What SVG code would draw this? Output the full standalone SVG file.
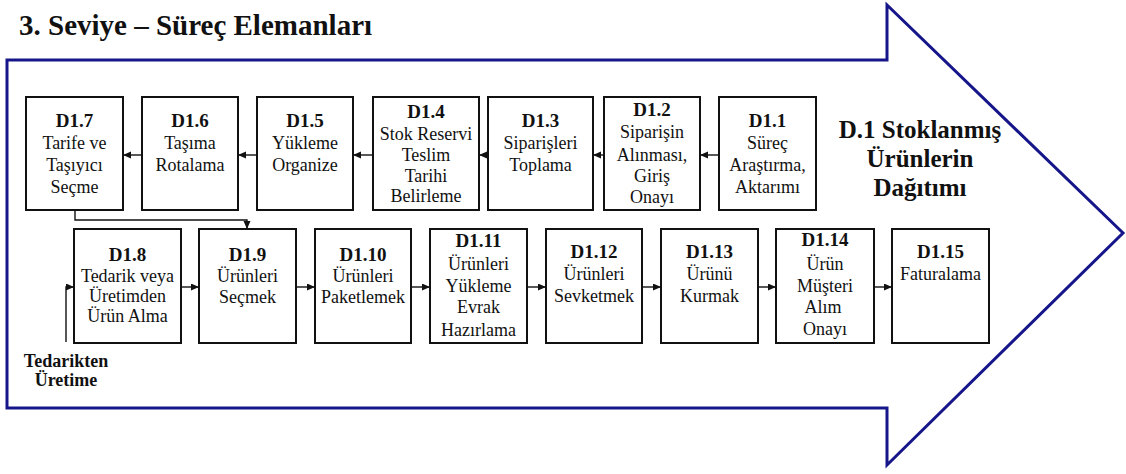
<svg xmlns="http://www.w3.org/2000/svg" width="1126" height="474" viewBox="0 0 1126 474">
  <style>
    .frame { fill: #fff; stroke: #16168a; stroke-width: 3; stroke-linejoin: miter; }
    .box rect { fill: #fff; stroke: #111; stroke-width: 2; }
    .box text { font-family: 'Liberation Serif', 'Times New Roman', serif; fill: #111; text-anchor: middle; font-size: 18px; }
    .box .id { font-weight: bold; font-size: 19px; }
    .head { font-family: 'Liberation Serif', 'Times New Roman', serif; font-weight: bold; fill: #111; }
    .link { fill: none; stroke: #111; stroke-width: 1.4; }
  </style>
  <defs>
    <marker id="tip" markerUnits="userSpaceOnUse" markerWidth="9" markerHeight="8" refX="8" refY="3.5" orient="auto">
      <path d="M0,0 L8,3.5 L0,7 z" fill="#111"/>
    </marker>
  </defs>

  <rect width="1126" height="474" fill="#fff"/>

  <!-- large block arrow -->
  <polygon class="frame" points="7,60 887,60 887,5 1123,233 887,465 887,408 7,408"/>

  <text class="head" x="19" y="35" font-size="29">3. Seviye – Süreç Elemanları</text>

  <g id="heading" class="head" font-size="25" text-anchor="middle">
    <text x="920" y="138">D.1 Stoklanmış</text>
    <text x="920" y="167">Ürünlerin</text>
    <text x="920" y="196">Dağıtımı</text>
  </g>

  <!-- top row (right to left) -->
  <g id="d1-1" class="box">
    <rect x="719" y="97" width="97" height="113"/>
    <text class="id" x="767.5" y="127">D1.1</text>
    <text x="767.5" y="149">Süreç</text>
    <text x="767.5" y="171">Araştırma,</text>
    <text x="767.5" y="193">Aktarımı</text>
  </g>
  <g id="d1-2" class="box">
    <rect x="604" y="97" width="96" height="113"/>
    <text class="id" x="652" y="116">D1.2</text>
    <text x="652" y="138">Siparişin</text>
    <text x="652" y="161">Alınması,</text>
    <text x="652" y="182">Giriş</text>
    <text x="652" y="203">Onayı</text>
  </g>
  <g id="d1-3" class="box">
    <rect x="488" y="97" width="105" height="113"/>
    <text class="id" x="540.5" y="127">D1.3</text>
    <text x="540.5" y="149">Siparişleri</text>
    <text x="540.5" y="171">Toplama</text>
  </g>
  <g id="d1-4" class="box">
    <rect x="373" y="97" width="106" height="113"/>
    <text class="id" x="426" y="118">D1.4</text>
    <text x="426" y="140" font-size="17.5">Stok Reservi</text>
    <text x="426" y="161">Teslim</text>
    <text x="426" y="182">Tarihi</text>
    <text x="426" y="202">Belirleme</text>
  </g>
  <g id="d1-5" class="box">
    <rect x="257" y="97" width="96" height="113"/>
    <text class="id" x="305" y="127">D1.5</text>
    <text x="305" y="149">Yükleme</text>
    <text x="305" y="171">Organize</text>
  </g>
  <g id="d1-6" class="box">
    <rect x="142" y="97" width="96" height="113"/>
    <text class="id" x="190" y="127">D1.6</text>
    <text x="190" y="149">Taşıma</text>
    <text x="190" y="171">Rotalama</text>
  </g>
  <g id="d1-7" class="box">
    <rect x="26" y="97" width="97" height="113"/>
    <text class="id" x="74.5" y="127">D1.7</text>
    <text x="74.5" y="149">Tarife ve</text>
    <text x="74.5" y="171">Taşıyıcı</text>
    <text x="74.5" y="193">Seçme</text>
  </g>

  <!-- bottom row (left to right) -->
  <g id="d1-8" class="box">
    <rect x="74" y="229" width="107" height="114"/>
    <text class="id" x="127.5" y="261">D1.8</text>
    <text x="127.5" y="282">Tedarik veya</text>
    <text x="127.5" y="302">Üretimden</text>
    <text x="127.5" y="322">Ürün Alma</text>
  </g>
  <g id="d1-9" class="box">
    <rect x="199" y="229" width="97" height="114"/>
    <text class="id" x="247.5" y="261">D1.9</text>
    <text x="247.5" y="282">Ürünleri</text>
    <text x="247.5" y="303">Seçmek</text>
  </g>
  <g id="d1-10" class="box">
    <rect x="315" y="229" width="96" height="114"/>
    <text class="id" x="363" y="261">D1.10</text>
    <text x="363" y="282">Ürünleri</text>
    <text x="363" y="303">Paketlemek</text>
  </g>
  <g id="d1-11" class="box">
    <rect x="430" y="229" width="97" height="114"/>
    <text class="id" x="478.5" y="247">D1.11</text>
    <text x="478.5" y="270">Ürünleri</text>
    <text x="478.5" y="292">Yükleme</text>
    <text x="478.5" y="313">Evrak</text>
    <text x="478.5" y="336">Hazırlama</text>
  </g>
  <g id="d1-12" class="box">
    <rect x="546" y="229" width="96" height="114"/>
    <text class="id" x="594" y="258">D1.12</text>
    <text x="594" y="280">Ürünleri</text>
    <text x="594" y="302">Sevketmek</text>
  </g>
  <g id="d1-13" class="box">
    <rect x="661" y="229" width="97" height="114"/>
    <text class="id" x="709.5" y="258">D1.13</text>
    <text x="709.5" y="280">Ürünü</text>
    <text x="709.5" y="302">Kurmak</text>
  </g>
  <g id="d1-14" class="box">
    <rect x="776" y="229" width="98" height="114"/>
    <text class="id" x="825" y="246">D1.14</text>
    <text x="825" y="270">Ürün</text>
    <text x="825" y="292">Müşteri</text>
    <text x="823" y="313">Alım</text>
    <text x="825" y="335">Onayı</text>
  </g>
  <g id="d1-15" class="box">
    <rect x="892" y="229" width="97" height="114"/>
    <text class="id" x="940.5" y="258">D1.15</text>
    <text x="940.5" y="280">Faturalama</text>
  </g>

  <g id="source-label" class="head" font-size="18" text-anchor="middle">
    <text x="66" y="367">Tedarikten</text>
    <text x="66" y="386">Üretime</text>
  </g>

  <!-- connectors -->
  <g id="connectors" class="link" marker-end="url(#tip)">
    <line x1="719" y1="155" x2="700" y2="155"/>
    <line x1="604" y1="155" x2="593" y2="155"/>
    <line x1="488" y1="155" x2="479" y2="155"/>
    <line x1="373" y1="155" x2="353" y2="155"/>
    <line x1="257" y1="155" x2="238" y2="155"/>
    <line x1="142" y1="155" x2="123" y2="155"/>
    <polyline points="75,210 75,220 247,220 247,229"/>
    <polyline points="66,342 66,287 74,287"/>
    <line x1="181" y1="287" x2="199" y2="287"/>
    <line x1="296" y1="287" x2="315" y2="287"/>
    <line x1="411" y1="287" x2="430" y2="287"/>
    <line x1="527" y1="287" x2="546" y2="287"/>
    <line x1="642" y1="287" x2="661" y2="287"/>
    <line x1="758" y1="287" x2="776" y2="287"/>
    <line x1="874" y1="287" x2="892" y2="287"/>
  </g>
</svg>
